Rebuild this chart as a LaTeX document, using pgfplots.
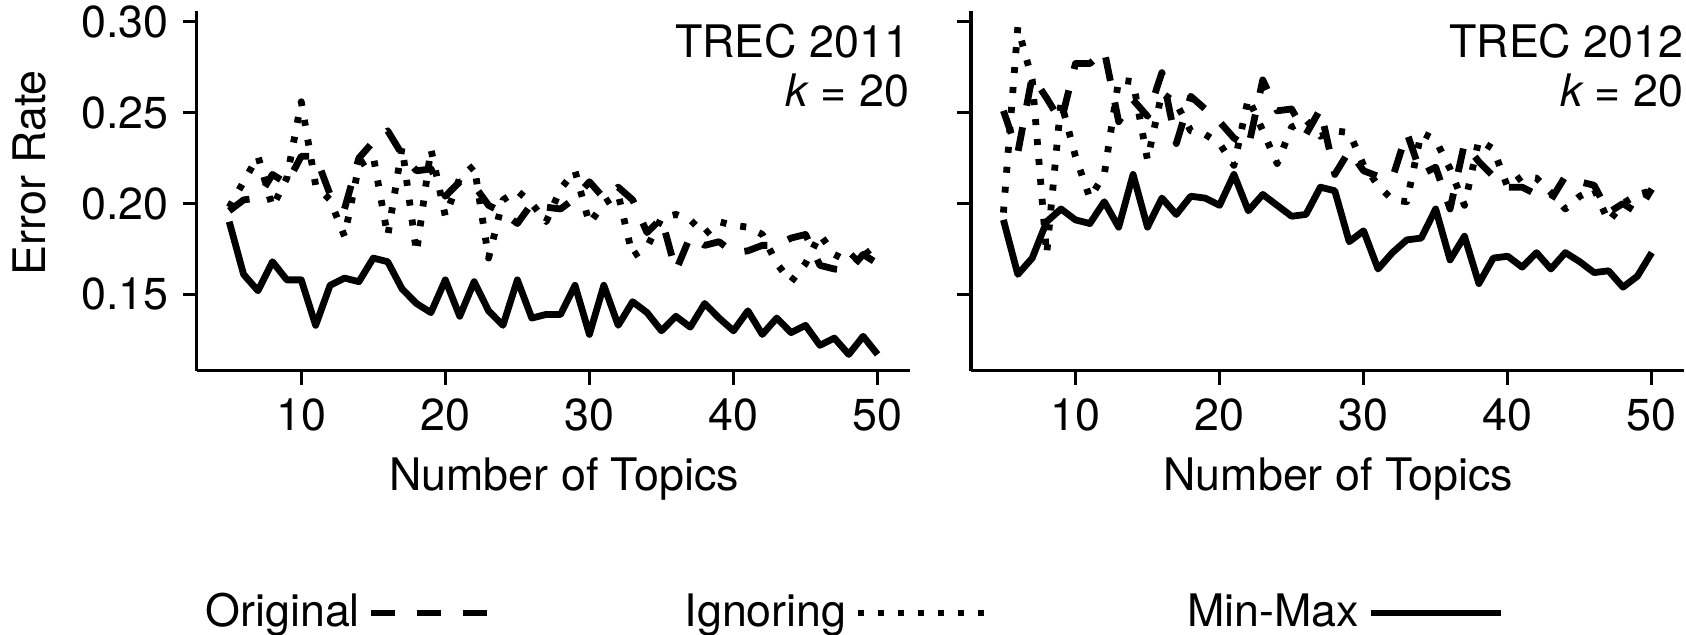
\documentclass[border=0pt]{standalone}
\usepackage{fontspec}
\setmainfont{TeX Gyre Heros}
\usepackage{pgfplots}
\pgfplotsset{compat=1.18}
\usepackage{pgfplotstable}

% x  orig  ign  minmax
\pgfplotstableread{
x orig ign mm
5 0.196 0.198 0.190
6 0.202 0.212 0.161
7 0.203 0.226 0.152
8 0.216 0.198 0.168
9 0.211 0.214 0.158
10 0.226 0.256 0.158
11 0.226 0.210 0.133
12 0.205 0.202 0.155
13 0.197 0.182 0.159
14 0.225 0.221 0.157
15 0.234 0.226 0.170
16 0.240 0.182 0.168
17 0.227 0.231 0.153
18 0.218 0.173 0.145
19 0.219 0.230 0.140
20 0.204 0.193 0.158
21 0.212 0.214 0.138
22 0.210 0.221 0.157
23 0.199 0.170 0.141
24 0.195 0.202 0.133
25 0.189 0.207 0.158
26 0.200 0.200 0.137
27 0.198 0.190 0.139
28 0.197 0.208 0.139
29 0.203 0.218 0.155
30 0.212 0.189 0.128
31 0.203 0.200 0.155
32 0.209 0.205 0.133
33 0.202 0.171 0.146
34 0.184 0.176 0.140
35 0.192 0.192 0.130
36 0.163 0.194 0.138
37 0.182 0.191 0.132
38 0.177 0.183 0.145
39 0.179 0.190 0.137
40 0.173 0.188 0.130
41 0.174 0.187 0.141
42 0.177 0.183 0.128
43 0.177 0.167 0.137
44 0.181 0.157 0.129
45 0.183 0.167 0.133
46 0.166 0.183 0.122
47 0.164 0.172 0.126
48 0.163 0.168 0.117
49 0.172 0.176 0.127
50 0.167 0.166 0.117
}\treceleven

\pgfplotstableread{
x orig ign mm
5 0.251 0.195 0.191
6 0.228 0.297 0.161
7 0.270 0.268 0.170
8 0.258 0.172 0.190
9 0.245 0.256 0.197
10 0.277 0.226 0.191
11 0.277 0.203 0.189
12 0.284 0.216 0.201
13 0.245 0.268 0.187
14 0.257 0.267 0.216
15 0.248 0.224 0.187
16 0.272 0.261 0.203
17 0.233 0.255 0.194
18 0.259 0.240 0.204
19 0.252 0.238 0.203
20 0.245 0.233 0.199
21 0.236 0.221 0.216
22 0.231 0.258 0.196
23 0.268 0.240 0.205
24 0.251 0.222 0.199
25 0.252 0.242 0.193
26 0.238 0.246 0.194
27 0.252 0.237 0.209
28 0.216 0.240 0.207
29 0.229 0.239 0.179
30 0.218 0.221 0.185
31 0.215 0.210 0.164
32 0.214 0.202 0.173
33 0.239 0.201 0.180
34 0.216 0.239 0.181
35 0.220 0.235 0.197
36 0.197 0.219 0.169
37 0.233 0.199 0.182
38 0.223 0.235 0.156
39 0.215 0.230 0.170
40 0.209 0.209 0.171
41 0.209 0.215 0.165
42 0.205 0.214 0.173
43 0.202 0.206 0.164
44 0.215 0.197 0.173
45 0.212 0.204 0.168
46 0.210 0.208 0.162
47 0.195 0.190 0.163
48 0.200 0.200 0.154
49 0.195 0.205 0.160
50 0.208 0.207 0.173
}\trectwelve

\tikzset{
  orig/.style={black,line width=1.7pt,line join=round,dash pattern=on 6pt off 5.5pt},
  ign/.style={black,line width=1.7pt,line join=round,dash pattern=on 1.5pt off 3.5pt},
  mm/.style={black,line width=1.7pt,line join=round},
}

\pgfplotsset{
  panel/.style={
    scale only axis,
    width=178.3pt, height=90pt,
    xmin=2.75, xmax=52.25,
    ymin=0.108, ymax=0.306,
    axis x line*=bottom, axis y line*=left,
    axis line style={-,line width=0.8pt},
    xtick={10,20,30,40,50},
    ytick={0.15,0.20,0.25,0.30},
    tick align=outside,
    major tick length=3.5pt,
    tick style={line width=0.8pt,black},
    every tick label/.append style={font=\fontsize{11.2}{13}\selectfont},
    label style={font=\fontsize{11.2}{13}\selectfont},
    /pgf/number format/assume math mode=true,
    yticklabel style={/pgf/number format/.cd,fixed,fixed zerofill,precision=2},
    xlabel={Number of Topics},
    xlabel style={at={(axis description cs:0.515,-0.30)},anchor=center},
    clip=false,
  },
}

\begin{document}
\begin{tikzpicture}
\path[use as bounding box] (0,0) rectangle (421.5pt,158.5pt);

\begin{axis}[panel,
  at={(49.2pt,65.8pt)}, anchor=south west,
  ylabel={Error Rate},
  ylabel style={at={(axis description cs:-0.235,0.55)},anchor=center},
  legend columns=3,
  legend plot pos=right,
  legend style={draw=none,fill=none,inner sep=0pt,
    at={(axis description cs:0,-0.673)},anchor=west,
    font=\fontsize{11.2}{13}\selectfont,
    /tikz/column 2/.style={column sep=43pt},
    /tikz/column 4/.style={column sep=47pt}},
  legend image code/.code={\draw[#1] (0pt,0pt) -- (32.5pt,0pt);},
]
\addplot[orig] table[x=x,y=orig] {\treceleven};
\addlegendentry{Original}
\addplot[ign] table[x=x,y=ign] {\treceleven};
\addlegendentry{Ignoring}
\addplot[mm] table[x=x,y=mm] {\treceleven};
\addlegendentry{Min-Max}
\node[anchor=north east,align=right,inner sep=0pt,font=\fontsize{11.2}{12.1}\selectfont]
  at (rel axis cs:1,0.965) {TREC 2011\\{\itshape k} = 20};
\end{axis}

\begin{axis}[panel,
  at={(242.75pt,65.8pt)}, anchor=south west,
  yticklabels={},
]
\addplot[orig] table[x=x,y=orig] {\trectwelve};
\addplot[ign] table[x=x,y=ign] {\trectwelve};
\addplot[mm] table[x=x,y=mm] {\trectwelve};
\node[anchor=north east,align=right,inner sep=0pt,font=\fontsize{11.2}{12.1}\selectfont]
  at (rel axis cs:1,0.965) {TREC 2012\\{\itshape k} = 20};
\end{axis}
\end{tikzpicture}
\end{document}
